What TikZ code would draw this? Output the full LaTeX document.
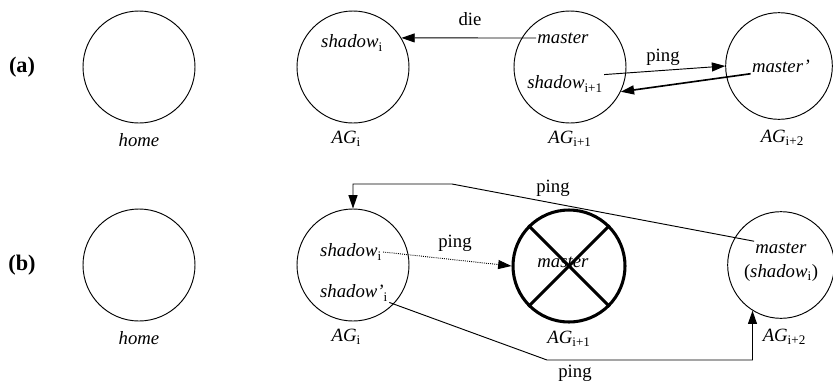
\documentclass[tikz,border=0pt]{standalone}
\usepackage{fontspec}
\setmainfont{Liberation Serif}
\usepackage{tikz}
\usetikzlibrary{arrows.meta, positioning}

\begin{document}
\begin{tikzpicture}[x=0.03cm, y=-0.03cm, font=\fontsize{16}{19}\selectfont]
    % Define styles for the nodes
    \tikzstyle{agent} = [
        circle, draw, line width=0.8pt, inner sep=0,
        minimum size=3.36cm
    ]
    \tikzstyle{small agent} = [agent, minimum size=3.2cm]
    \tikzstyle{dead} = [agent, line width=2.6pt]
    \tikzstyle{role} = [inner sep=1pt]
    \tikzstyle{tag} = [inner sep=0]
    \tikzstyle{case} = [inner sep=0, font=\fontsize{19}{22}\selectfont\bfseries]

    \tikzstyle{arrow} = [-{Triangle[length=0.4cm, width=0.27cm]}, line width=0.8pt]

    \useasboundingbox (0,0) rectangle (833,382);

    % Row (a)
    \node[case]         (case_a) at (22,67)   {(a)};
    \node[agent]        (home_a) at (139,67)  {};
    \node[agent]        (ag1_a)  at (353,67)  {};
    \node[agent]        (ag2_a)  at (570,67)  {};
    \node[small agent]  (ag3_a)  at (779,66)  {};

    \node[tag, below=0.28cm of home_a]               (home_a_lbl) {\textit{home}};
    \node[tag, below=0.22cm of ag1_a, xshift=-0.2cm] (ag1_a_lbl)  {\textit{AG}\textsubscript{i}};
    \node[tag, below=0.22cm of ag2_a]                (ag2_a_lbl)  {\textit{AG}\textsubscript{i+1}};
    \node[tag, below=0.3cm of ag3_a, xshift=0.1cm]   (ag3_a_lbl)  {\textit{AG}\textsubscript{i+2}};

    \node[role] (sh1_a) at (352,43) {\textit{shadow}\textsubscript{i}};
    \node[role] (ms2_a) at (563,38) {\textit{master}};
    \node[role] (sh2_a) at (565,84) {\textit{shadow}\textsubscript{i+1}};
    \node[role] (ms3_a) at (781,66) {\textit{master'}};

    % Arrows (a)
    \draw[arrow] (ms2_a.west) to (ag1_a.31);
    \node[tag] (die_lbl) at (470,19) {die};

    \draw[arrow] (sh2_a.north east) to (ag3_a.west);
    \node[tag] (ping_a) at (663,57) {ping};

    \draw[arrow, line width=1.4pt] (ms3_a.south west) to (ag2_a.-26);

    % Row (b)
    \node[case]         (case_b) at (22,265)  {(b)};
    \node[agent]        (home_b) at (139,265) {};
    \node[agent]        (ag1_b)  at (353,265) {};
    \node[dead]         (ag2_b)  at (569,266) {};
    \node[small agent]  (ag3_b)  at (781,265) {};

    \node[tag, below=0.28cm of home_b]               (home_b_lbl) {\textit{home}};
    \node[tag, below=0.22cm of ag1_b, xshift=-0.2cm] (ag1_b_lbl)  {\textit{AG}\textsubscript{i}};
    \node[tag, below=0.22cm of ag2_b]                (ag2_b_lbl)  {\textit{AG}\textsubscript{i+1}};
    \node[tag, below=0.3cm of ag3_b, xshift=0.1cm]   (ag3_b_lbl)  {\textit{AG}\textsubscript{i+2}};

    \node[role] (sh1_b)  at (351,252) {\textit{shadow}\textsubscript{i}};
    \node[role] (shp1_b) at (354,293) {\textit{shadow'}\textsubscript{i}};
    \node[role] (ms2_b)  at (563,262) {\textit{master}};
    \node[role] (ms3_b)  at (781,248) {\textit{master}};
    \node[role] (sh3_b)  at (781,273) {(\textit{shadow}\textsubscript{i})};

    % Cross over the dead agent
    \draw[line width=2.6pt] (ag2_b.135) -- (ag2_b.-45);
    \draw[line width=2.6pt] (ag2_b.45) -- (ag2_b.-135);

    % Arrows (b)
    \draw[arrow, densely dotted] (sh1_b.east) to (ag2_b.west);
    \node[tag] (ping_b1) at (455,243) {ping};

    \coordinate (bend_top) at (452,184);
    \draw[arrow] (ms3_b.north west) -- (bend_top) -| (ag1_b.north);
    \node[tag] (ping_b2) at (553,188) {ping};

    \coordinate (bend_bot) at (547,360);
    \draw[arrow] (shp1_b.south east) -- (bend_bot) -| (ag3_b.-122);
    \node[tag] (ping_b3) at (575,373) {ping};

\end{tikzpicture}
\end{document}
